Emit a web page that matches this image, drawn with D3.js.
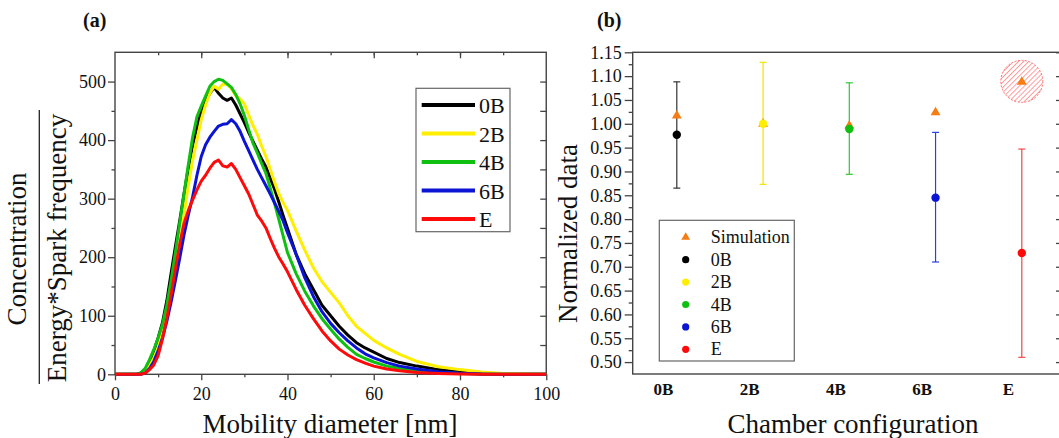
<!DOCTYPE html>
<html>
<head>
<meta charset="utf-8">
<script src="https://cdn.jsdelivr.net/npm/d3@7"></script>
<style>
body { margin: 0; background: #fff; }
svg text { font-family: "Liberation Serif", "Times New Roman", serif; fill: #111; }
</style>
</head>
<body>
<svg id="chart" width="1059" height="438"></svg>
<script>
// (a) size distributions
var diameters = [0, 5, 6, 7, 8, 9, 10, 11, 12, 13, 14, 15, 16, 17, 18, 19, 20, 21, 22, 23, 24, 25,
    26, 27, 28, 29, 30, 31, 32, 33, 34, 35, 36, 37, 38, 39, 40, 42, 44, 46, 48, 50, 52, 54, 56, 58, 60,
    63, 66, 70, 75, 80, 85, 90, 100];
var conc0B = [0, 0, 2, 8, 22, 40, 62, 88, 125, 172, 218, 262, 308, 352, 392, 422, 449, 466, 480, 490, 480, 472,
    468, 472, 460, 445, 430, 413, 398, 383, 368, 354, 335, 316, 294, 271, 249, 205, 172, 145, 118, 100, 82, 67, 54, 45, 38,
    27, 20, 14, 8, 4, 0.5, 0, 0];
var conc2B = [0, 0, 1, 5, 15, 28, 45, 72, 105, 145, 180, 220, 272, 322, 365, 400, 435, 460, 480, 492, 487, 496,
    495, 488, 476, 470, 462, 443, 425, 410, 390, 372, 350, 328, 308, 293, 280, 245, 212, 182, 158, 140, 122, 100, 82, 70, 58,
    45, 34, 22, 13, 8, 4, 1.5, 0];
var conc4B = [0, 0, 3, 10, 25, 42, 62, 85, 118, 160, 208, 258, 308, 358, 405, 440, 458, 475, 492, 500, 504, 502,
    496, 490, 478, 462, 442, 418, 395, 378, 360, 343, 318, 292, 264, 236, 208, 172, 142, 117, 95, 77, 60, 46, 34, 27, 21,
    14, 10, 5.5, 3, 1.5, 0.5, 0, 0];
var conc6B = [0, 0, 0, 2, 10, 22, 40, 62, 90, 123, 160, 198, 238, 272, 303, 340, 372, 392, 405, 415, 424, 427,
    428, 435, 428, 415, 398, 382, 366, 350, 336, 322, 308, 293, 278, 262, 242, 205, 165, 133, 107, 87, 71, 57, 45, 35, 28,
    20, 14, 9, 4.5, 2, 0.5, 0, 0];
var concE = [0, 0, 0, 2, 8, 16, 32, 60, 95, 135, 180, 222, 258, 280, 298, 315, 330, 340, 352, 362, 366, 356,
    354, 360, 350, 336, 322, 308, 290, 272, 262, 250, 232, 215, 200, 188, 175, 145, 118, 95, 74, 57, 43, 33, 25, 19, 14,
    9, 6, 3, 1.5, 0.5, 0, 0, 0];
var seriesNames = ["0B", "2B", "4B", "6B", "E"];
var seriesColors = ["#000000", "#ffee00", "#10c010", "#0a14d2", "#ff0a0a"];
var xTicksA = [0, 20, 40, 60, 80, 100];
var yTicksA = [0, 100, 200, 300, 400, 500];

// (b) normalized data
var configs = ["0B", "2B", "4B", "6B", "E"];
var measured = [0.977, 1.000, 0.989, 0.845, 0.729];
var errLow = [0.865, 0.873, 0.894, 0.710, 0.510];
var errHigh = [1.088, 1.129, 1.086, 0.982, 0.947];
var simulation = [1.017, 1.000, 0.996, 1.024, 1.088];
var pointColors = ["#000000", "#ffee00", "#10c010", "#0a14d2", "#ff0a0a"];
var barColors = ["#333333", "#f2e400", "#30c830", "#2a40e0", "#f04848"];
var simColor = "#f77c12";

function main() {
    var svg = d3.select("#chart");
    var frame = "#444";

    // ---------- panel (a) ----------
    var xA = d3.scaleLinear().domain([0, 100]).range([115, 546.25]);
    var yA = d3.scaleLinear().domain([0, 550]).range([374.3, 52.3]);
    var a = svg.append("g");

    // minor + major ticks, all four sides
    a.append("g").attr("transform", "translate(0,374.3)")
        .call(d3.axisBottom(xA).tickValues(d3.range(10, 100, 20)).tickSize(3).tickFormat(""));
    a.append("g").attr("class", "lab").attr("transform", "translate(0,374.3)")
        .call(d3.axisBottom(xA).tickValues(xTicksA).tickSize(6).tickPadding(7));
    a.append("g").attr("transform", "translate(0,52.3)")
        .call(d3.axisBottom(xA).tickValues(d3.range(10, 100, 10)).tickSize(3).tickFormat(""));
    a.append("g").attr("transform", "translate(0,52.3)")
        .call(d3.axisBottom(xA).tickValues(d3.range(20, 100, 20)).tickSize(6).tickFormat(""));
    a.append("g").attr("transform", "translate(115,0)")
        .call(d3.axisLeft(yA).tickValues(d3.range(50, 550, 100)).tickSize(3.5).tickFormat(""));
    a.append("g").attr("class", "lab").attr("transform", "translate(115,0)")
        .call(d3.axisLeft(yA).tickValues(yTicksA).tickSize(7).tickPadding(2));
    a.append("g").attr("transform", "translate(546.25,0)")
        .call(d3.axisLeft(yA).tickValues(d3.range(50, 550, 50)).tickSize(6).tickFormat(""));

    a.append("rect").attr("x", 115).attr("y", 52.3).attr("width", 431.25).attr("height", 322)
        .attr("fill", "none").attr("stroke", frame).attr("stroke-width", 1.4);

    var line = d3.line()
        .x(function(d) { return xA(d[0]); })
        .y(function(d) { return yA(d[1]); });
    var series = [conc0B, conc2B, conc4B, conc6B, concE];
    series.forEach(function(vals, i) {
        a.append("path")
            .datum(diameters.map(function(dm, j) { return [dm, vals[j]]; }))
            .attr("fill", "none")
            .attr("stroke", seriesColors[i])
            .attr("stroke-width", 3)
            .attr("stroke-linejoin", "round")
            .attr("d", line);
    });

    // legend (a)
    var la = a.append("g");
    la.append("rect").attr("x", 416).attr("y", 88.3).attr("width", 94).attr("height", 143.4)
        .attr("fill", "#fff").attr("stroke", "#666").attr("stroke-width", 1.2);
    seriesNames.forEach(function(nm, i) {
        var yy = 105 + i * 28.5;
        la.append("line").attr("x1", 421.7).attr("x2", 475).attr("y1", yy).attr("y2", yy)
            .attr("stroke", seriesColors[i]).attr("stroke-width", 4);
        la.append("text").attr("x", 479).attr("y", yy + 8).attr("font-size", 22).text(nm);
    });

    svg.append("text").attr("x", 83).attr("y", 27).attr("font-size", 20).attr("font-weight", "bold").text("(a)");
    svg.append("text").attr("x", 330).attr("y", 433).attr("text-anchor", "middle").attr("font-size", 27)
        .text("Mobility diameter [nm]");
    svg.append("text").attr("transform", "translate(26,249) rotate(-90)").attr("text-anchor", "middle")
        .attr("font-size", 27).text("Concentration");
    svg.append("line").attr("x1", 39.3).attr("x2", 39.3).attr("y1", 110).attr("y2", 384)
        .attr("stroke", "#222").attr("stroke-width", 1.3);
    svg.append("text").attr("transform", "translate(66,248) rotate(-90)").attr("text-anchor", "middle")
        .attr("font-size", 27).text("Energy*Spark frequency");

    // ---------- panel (b) ----------
    var xB = d3.scaleLinear().domain([0, 4]).range([663, 1008]);
    var yB = d3.scaleLinear().domain([0.475, 1.15]).range([374, 52.3]);
    var b = svg.append("g");
    var dx = 0.16;

    b.append("g").attr("transform", "translate(632.7,0)")
        .call(d3.axisLeft(yB).tickValues(d3.range(0.525, 1.15, 0.05)).tickSize(4).tickFormat(""));
    b.append("g").attr("class", "lab").attr("transform", "translate(632.7,0)")
        .call(d3.axisLeft(yB).tickValues(d3.range(0.5, 1.151, 0.05)).tickSize(8).tickPadding(3)
            .tickFormat(d3.format(".2f")));
    b.append("g").attr("transform", "translate(1064,0)")
        .call(d3.axisLeft(yB).tickValues(d3.range(0.5, 1.151, 0.05)).tickSize(8).tickFormat(""));
    b.append("g").attr("class", "cat").attr("transform", "translate(0,374)")
        .call(d3.axisBottom(xB).tickValues(d3.range(0, 5)).tickSize(0).tickPadding(9)
            .tickFormat(function(i) { return configs[i]; }));

    b.append("rect").attr("x", 632.7).attr("y", 52.3).attr("width", 431.3).attr("height", 321.7)
        .attr("fill", "none").attr("stroke", frame).attr("stroke-width", 1.4);

    // highlight round the E simulation value
    var defs = svg.append("defs");
    var pat = defs.append("pattern").attr("id", "hatch").attr("patternUnits", "userSpaceOnUse")
        .attr("width", 3.6).attr("height", 3.6).attr("patternTransform", "rotate(45)");
    pat.append("line").attr("x1", 0).attr("y1", 0).attr("x2", 0).attr("y2", 3.6)
        .attr("stroke", "#ff5050").attr("stroke-width", 1.1);
    b.append("circle").attr("cx", xB(4 + dx)).attr("cy", yB(simulation[4]) - 0.5).attr("r", 21)
        .attr("fill", "url(#hatch)").attr("stroke", "#ff6a6a").attr("stroke-width", 1)
        .attr("stroke-dasharray", "2,1.5");

    // error bars
    configs.forEach(function(c, i) {
        var cx = xB(i + dx);
        var g = b.append("g").attr("stroke", barColors[i]).attr("stroke-width", 1.2);
        g.append("line").attr("x1", cx).attr("x2", cx).attr("y1", yB(errLow[i])).attr("y2", yB(errHigh[i]));
        g.append("line").attr("x1", cx - 3.5).attr("x2", cx + 3.5).attr("y1", yB(errLow[i])).attr("y2", yB(errLow[i]));
        g.append("line").attr("x1", cx - 3.5).attr("x2", cx + 3.5).attr("y1", yB(errHigh[i])).attr("y2", yB(errHigh[i]));
    });

    var tri = d3.symbol().type(d3.symbolTriangle).size(42);
    b.selectAll(".sim").data(simulation).enter().append("path").attr("class", "sim")
        .attr("d", tri)
        .attr("transform", function(d, i) { return "translate(" + xB(i + dx) + "," + yB(d) + ")"; })
        .attr("fill", simColor);
    b.selectAll(".meas").data(measured).enter().append("circle").attr("class", "meas")
        .attr("cx", function(d, i) { return xB(i + dx); })
        .attr("cy", function(d) { return yB(d); })
        .attr("r", 4.2)
        .attr("fill", function(d, i) { return pointColors[i]; });

    // legend (b)
    var lb = b.append("g");
    lb.append("rect").attr("x", 659.3).attr("y", 220.3).attr("width", 135).attr("height", 140.7)
        .attr("fill", "#fff").attr("stroke", "#666").attr("stroke-width", 1.2);
    var labels = ["Simulation"].concat(configs);
    labels.forEach(function(nm, i) {
        var yy = 237.3 + i * 22.4;
        if (i === 0) {
            lb.append("path").attr("d", d3.symbol().type(d3.symbolTriangle).size(34))
                .attr("transform", "translate(685.7," + yy + ")").attr("fill", simColor);
        } else {
            lb.append("circle").attr("cx", 685.7).attr("cy", yy).attr("r", 3.6)
                .attr("fill", pointColors[i - 1]);
        }
        lb.append("text").attr("x", 710.7).attr("y", yy + 6).attr("font-size", 18).text(nm);
    });

    svg.append("text").attr("x", 597).attr("y", 27).attr("font-size", 20).attr("font-weight", "bold").text("(b)");
    svg.append("text").attr("x", 853).attr("y", 433).attr("text-anchor", "middle").attr("font-size", 27)
        .text("Chamber configuration");
    svg.append("text").attr("transform", "translate(577,233.5) rotate(-90)").attr("text-anchor", "middle")
        .attr("font-size", 27).text("Normalized data");

    // axis styling
    svg.selectAll(".domain").remove();
    svg.selectAll(".tick line").attr("stroke", frame).attr("stroke-width", 1.3);
    svg.selectAll(".lab text").attr("font-size", 18).attr("fill", "#111")
        .attr("font-family", "'Liberation Serif', 'Times New Roman', serif");
    svg.selectAll(".cat text").attr("font-size", 17).attr("font-weight", "bold").attr("fill", "#111")
        .attr("font-family", "'Liberation Serif', 'Times New Roman', serif");
}

main();
</script>
</body>
</html>
